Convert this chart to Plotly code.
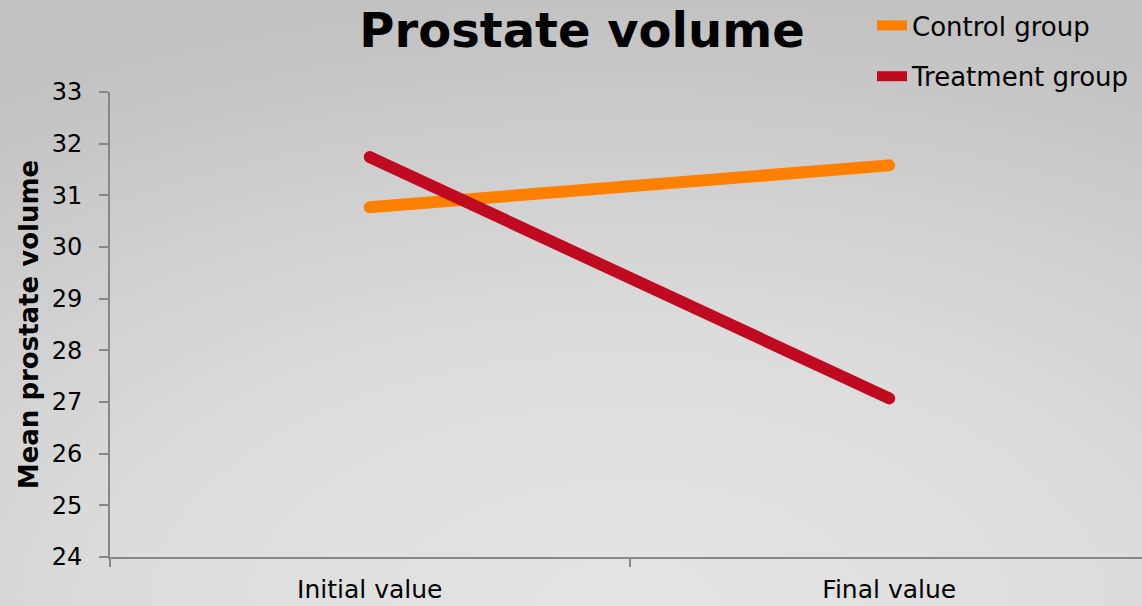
import plotly.graph_objects as go

categories = ["Initial value", "Final value"]
control_values = [30.77, 31.58]
treatment_values = [31.74, 27.07]
series_names = ["Control group", "Treatment group"]
y_ticks = [24, 25, 26, 27, 28, 29, 30, 31, 32, 33]

colors = ["#FF8000", "#BF0A1F"]
FONT = "DejaVu Sans"
xpos = list(range(len(categories)))

bg_svg = (
    "data:image/svg+xml;utf8,"
    "<svg xmlns='http://www.w3.org/2000/svg' width='1142' height='606'>"
    "<defs><radialGradient id='g' cx='0.55' cy='1.0' r='1.0'>"
    "<stop offset='0' stop-color='%23e4e4e4'/>"
    "<stop offset='0.45' stop-color='%23dcdcdc'/>"
    "<stop offset='1' stop-color='%23c2c2c2'/>"
    "</radialGradient></defs>"
    "<rect width='1142' height='606' fill='url(%23g)'/></svg>"
)

fig = go.Figure()
for name, vals, col in zip(series_names, [control_values, treatment_values], colors):
    fig.add_trace(go.Scatter(
        x=xpos, y=vals, mode="lines", name=name,
        line=dict(color=col, width=12), legendgroup=name,
    ))
    fig.add_trace(go.Scatter(
        x=xpos, y=vals, mode="markers", showlegend=False, legendgroup=name,
        marker=dict(color=col, size=12, line=dict(width=0)), hoverinfo="skip",
    ))

fig.update_layout(
    width=1142, height=606,
    margin=dict(l=110, r=0, t=92, b=49, autoexpand=False),
    paper_bgcolor="rgba(0,0,0,0)", plot_bgcolor="rgba(0,0,0,0)",
    images=[dict(source=bg_svg, xref="paper", yref="paper", x=-110/1032, y=1+92/465,
                 sizex=1142/1032, sizey=606/465, sizing="stretch", layer="below",
                 xanchor="left", yanchor="top")],
    title=dict(text="<b>Prostate volume</b>", xref="container", yref="container",
               x=582/1142, y=1-30/606, xanchor="center", yanchor="middle",
               font=dict(family=FONT, size=48, color="#000000")),
    legend=dict(x=872/1142, y=1-2/606, xref="container", yref="container",
                xanchor="left", yanchor="top", bgcolor="rgba(0,0,0,0)",
                font=dict(family=FONT, size=26, color="#000000"),
                tracegroupgap=14, itemwidth=30),
    showlegend=True,
    xaxis=dict(
        range=[-0.5, -0.5 + 1033/520], tickvals=xpos, ticktext=categories,
        ticks="", showgrid=False, zeroline=False, showline=True,
        linecolor="#878787", linewidth=2,
        tickfont=dict(family=FONT, size=25, color="#000000"),
        ticklabelstandoff=9,
        minor=dict(tickvals=[-0.5, 0.5], ticks="outside", ticklen=8,
                   tickcolor="#878787", tickwidth=1.5, showgrid=False),
    ),
    yaxis=dict(
        range=[24, 33], tickvals=y_ticks, ticks="outside", ticklen=9,
        tickcolor="#878787", tickwidth=1.5, showgrid=False, zeroline=False,
        showline=True, linecolor="#878787", linewidth=2,
        tickfont=dict(family=FONT, size=24, color="#000000"),
        ticklabelstandoff=12,
        title=dict(text="<b>Mean prostate volume</b>", standoff=6,
                   font=dict(family=FONT, size=26, color="#000000")),
    ),
)

fig.write_html("out.html", config={"displayModeBar": False},
               post_script="document.body.style.margin='0';")
